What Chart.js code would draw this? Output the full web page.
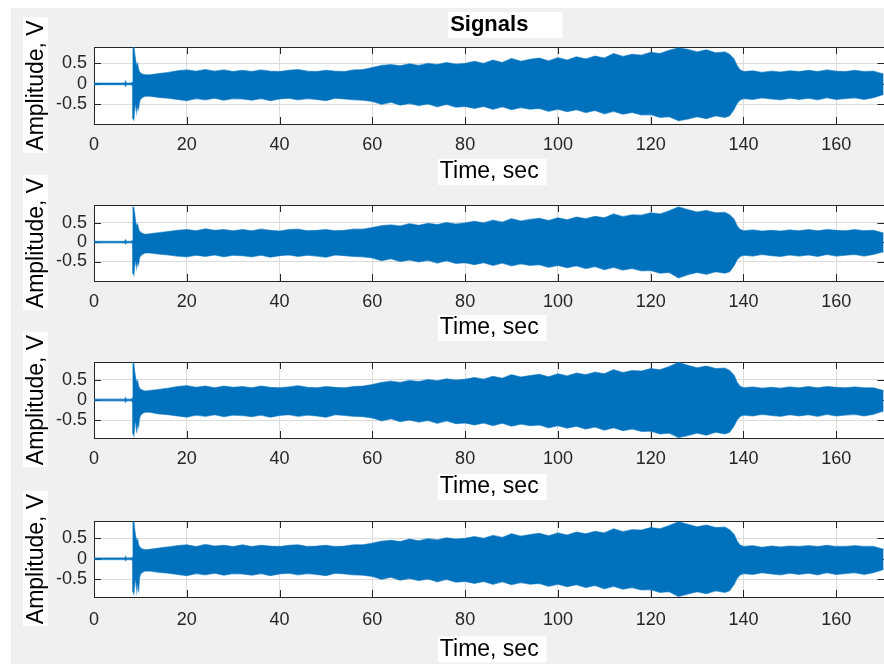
<!DOCTYPE html>
<html><head><meta charset="utf-8">
<script src="https://cdn.jsdelivr.net/npm/chart.js@4.4.1/dist/chart.umd.min.js"></script>
<style>
html,body{margin:0;padding:0;width:884px;height:664px;overflow:hidden;background:#fff;}
#bg{position:absolute;left:11px;top:8px;width:900px;height:700px;background:#f0f0f0;}
canvas{position:absolute;left:0;top:0;}
</style></head><body>
<div id="bg"></div>
<canvas id="c0" width="890" height="664"></canvas>
<canvas id="c1" width="890" height="664"></canvas>
<canvas id="c2" width="890" height="664"></canvas>
<canvas id="c3" width="890" height="664"></canvas>
<script>
// ---------- data ----------
const chartTitle = 'Signals';
const xAxisTitle = 'Time, sec';
const yAxisTitle = 'Amplitude, V';
const xTicks = [0, 20, 40, 60, 80, 100, 120, 140, 160];
const xTickLabels = ['0', '20', '40', '60', '80', '100', '120', '140', '160'];
const yTicks = [-0.5, 0, 0.5];
const yTickLabels = ['-0.5', '0', '0.5'];

// time samples (s) at which the signal envelope was read
const time = [0,2,4,6,6.6,6.8,7,8,
  8.3,8.4,8.6,8.8,9.0,9.2,9.4,9.6,9.8,10.0,10.4,11,
  12,14,16,18,20,22,24,26,28,30,32,34,36,38,40,42,44,46,48,50,52,54,56,58,
  60,62,64,66,68,70,72,74,76,78,
  80,82,84,86,88,90,92,94,96,98,
  100,102,104,106,108,110,112,114,116,118,
  120,122,124,126,128,130,132,134,136,
  137,138,138.6,139.2,
  140,142,144,146,148,150,152,154,156,158,160,162,164,166,168,170.2];

// signal 1 envelope (V)
const upper1 = [0.02,0.02,0.02,0.02,0.02,0.07,0.02,0.02,
  0.04,0.88,0.9,0.72,0.55,0.45,0.5,0.36,0.3,0.27,0.24,0.22,
  0.22,0.25,0.28,0.32,0.34,0.31,0.35,0.31,0.34,0.3,0.33,0.3,0.34,0.31,0.3,0.33,0.35,0.31,0.3,0.33,0.31,0.3,0.34,0.35,
  0.4,0.45,0.47,0.44,0.49,0.45,0.5,0.47,0.52,0.48,
  0.5,0.55,0.5,0.58,0.52,0.62,0.55,0.6,0.63,0.56,
  0.64,0.58,0.66,0.61,0.68,0.63,0.74,0.67,0.72,0.7,
  0.77,0.74,0.82,0.88,0.84,0.78,0.83,0.76,0.78,
  0.72,0.6,0.45,0.35,
  0.3,0.32,0.28,0.31,0.29,0.32,0.3,0.33,0.3,0.34,0.31,0.3,0.33,0.3,0.31,0.24];
const lower1 = [-0.02,-0.02,-0.02,-0.02,-0.02,-0.06,-0.02,-0.02,
  -0.04,-0.85,-0.88,-0.6,-0.5,-0.7,-0.55,-0.62,-0.45,-0.38,-0.33,-0.3,
  -0.3,-0.33,-0.35,-0.38,-0.41,-0.36,-0.39,-0.35,-0.4,-0.36,-0.37,-0.4,-0.36,-0.41,-0.37,-0.35,-0.39,-0.36,-0.38,-0.41,-0.35,-0.37,-0.39,-0.4,
  -0.43,-0.5,-0.45,-0.52,-0.48,-0.53,-0.49,-0.56,-0.5,-0.57,
  -0.55,-0.6,-0.55,-0.62,-0.56,-0.63,-0.58,-0.62,-0.6,-0.67,
  -0.62,-0.68,-0.63,-0.7,-0.65,-0.73,-0.67,-0.74,-0.7,-0.76,
  -0.75,-0.82,-0.8,-0.9,-0.86,-0.8,-0.85,-0.78,-0.82,
  -0.78,-0.62,-0.48,-0.4,
  -0.36,-0.38,-0.34,-0.37,-0.39,-0.35,-0.38,-0.35,-0.39,-0.34,-0.38,-0.36,-0.34,-0.38,-0.34,-0.26];

// signal 2 envelope (V)
const upper2 = [0.02,0.02,0.02,0.02,0.02,0.06,0.02,0.02,
  0.04,0.9,0.88,0.7,0.5,0.42,0.46,0.34,0.28,0.26,0.22,0.2,
  0.21,0.24,0.27,0.3,0.32,0.29,0.34,0.3,0.32,0.29,0.32,0.29,0.33,0.3,0.28,0.32,0.33,0.29,0.3,0.32,0.29,0.3,0.33,0.33,
  0.37,0.42,0.44,0.41,0.47,0.43,0.48,0.45,0.5,0.46,
  0.49,0.53,0.49,0.56,0.51,0.6,0.54,0.58,0.61,0.55,
  0.62,0.57,0.64,0.6,0.66,0.62,0.72,0.65,0.7,0.69,
  0.75,0.72,0.8,0.9,0.83,0.77,0.81,0.75,0.76,
  0.7,0.58,0.42,0.33,
  0.29,0.31,0.28,0.3,0.28,0.31,0.29,0.32,0.29,0.32,0.3,0.29,0.32,0.29,0.3,0.23];
const lower2 = [-0.02,-0.02,-0.02,-0.02,-0.02,-0.05,-0.02,-0.02,
  -0.04,-0.8,-0.85,-0.58,-0.48,-0.66,-0.52,-0.58,-0.42,-0.36,-0.32,-0.28,
  -0.28,-0.31,-0.33,-0.36,-0.38,-0.34,-0.37,-0.33,-0.38,-0.34,-0.35,-0.38,-0.34,-0.39,-0.35,-0.33,-0.37,-0.34,-0.36,-0.39,-0.33,-0.35,-0.37,-0.38,
  -0.41,-0.48,-0.43,-0.5,-0.46,-0.51,-0.47,-0.54,-0.48,-0.55,
  -0.53,-0.58,-0.53,-0.6,-0.54,-0.61,-0.56,-0.6,-0.58,-0.65,
  -0.6,-0.66,-0.61,-0.68,-0.63,-0.71,-0.65,-0.72,-0.68,-0.74,
  -0.73,-0.8,-0.78,-0.92,-0.84,-0.78,-0.83,-0.76,-0.8,
  -0.76,-0.6,-0.46,-0.38,
  -0.34,-0.36,-0.32,-0.35,-0.37,-0.33,-0.36,-0.33,-0.37,-0.32,-0.36,-0.34,-0.32,-0.36,-0.32,-0.25];

// signal 3 envelope (V)
const upper3 = [0.02,0.02,0.02,0.02,0.02,0.06,0.02,0.02,
  0.05,0.92,0.88,0.68,0.52,0.44,0.48,0.35,0.3,0.27,0.24,0.22,
  0.23,0.26,0.29,0.33,0.35,0.31,0.34,0.3,0.34,0.31,0.33,0.3,0.34,0.31,0.3,0.32,0.35,0.31,0.3,0.33,0.31,0.3,0.33,0.34,
  0.38,0.43,0.46,0.43,0.48,0.45,0.5,0.47,0.52,0.49,
  0.51,0.55,0.51,0.58,0.53,0.62,0.56,0.6,0.63,0.57,
  0.64,0.59,0.66,0.62,0.68,0.64,0.74,0.67,0.72,0.71,
  0.77,0.74,0.82,0.92,0.85,0.79,0.83,0.77,0.78,
  0.72,0.6,0.44,0.34,
  0.3,0.32,0.29,0.31,0.29,0.32,0.3,0.33,0.3,0.33,0.31,0.3,0.32,0.3,0.3,0.23];
const lower3 = [-0.02,-0.02,-0.02,-0.02,-0.02,-0.06,-0.02,-0.02,
  -0.05,-0.82,-0.88,-0.62,-0.52,-0.8,-0.6,-0.66,-0.46,-0.38,-0.33,-0.3,
  -0.3,-0.34,-0.36,-0.39,-0.42,-0.37,-0.4,-0.36,-0.41,-0.37,-0.38,-0.41,-0.37,-0.42,-0.38,-0.36,-0.4,-0.37,-0.39,-0.42,-0.36,-0.38,-0.4,-0.41,
  -0.44,-0.51,-0.46,-0.53,-0.49,-0.54,-0.5,-0.57,-0.51,-0.58,
  -0.56,-0.61,-0.56,-0.63,-0.57,-0.64,-0.59,-0.63,-0.61,-0.68,
  -0.63,-0.69,-0.64,-0.71,-0.66,-0.74,-0.68,-0.75,-0.71,-0.77,
  -0.76,-0.83,-0.81,-0.92,-0.87,-0.81,-0.86,-0.79,-0.83,
  -0.79,-0.63,-0.49,-0.41,
  -0.37,-0.39,-0.35,-0.38,-0.4,-0.36,-0.39,-0.36,-0.4,-0.35,-0.39,-0.37,-0.35,-0.39,-0.35,-0.27];

// signal 4 envelope (V)
const upper4 = [0.02,0.02,0.02,0.02,0.02,0.06,0.02,0.02,
  0.04,0.9,0.9,0.7,0.54,0.44,0.48,0.35,0.3,0.27,0.24,0.22,
  0.23,0.26,0.29,0.32,0.34,0.3,0.35,0.31,0.33,0.3,0.34,0.3,0.33,0.31,0.3,0.33,0.34,0.3,0.31,0.33,0.3,0.31,0.34,0.34,
  0.38,0.43,0.45,0.42,0.48,0.44,0.49,0.46,0.51,0.48,
  0.5,0.54,0.5,0.57,0.52,0.61,0.55,0.59,0.62,0.56,
  0.63,0.58,0.65,0.61,0.67,0.63,0.73,0.66,0.71,0.7,
  0.76,0.73,0.81,0.9,0.84,0.78,0.82,0.76,0.77,
  0.71,0.59,0.44,0.34,
  0.3,0.32,0.28,0.31,0.29,0.31,0.3,0.32,0.3,0.33,0.3,0.3,0.32,0.3,0.3,0.23];
const lower4 = [-0.02,-0.02,-0.02,-0.02,-0.02,-0.05,-0.02,-0.02,
  -0.04,-0.8,-0.86,-0.6,-0.5,-0.78,-0.6,-0.82,-0.48,-0.38,-0.33,-0.3,
  -0.3,-0.33,-0.35,-0.38,-0.41,-0.36,-0.39,-0.35,-0.4,-0.36,-0.37,-0.4,-0.36,-0.41,-0.37,-0.35,-0.39,-0.36,-0.38,-0.41,-0.35,-0.37,-0.39,-0.4,
  -0.43,-0.5,-0.45,-0.52,-0.48,-0.53,-0.49,-0.56,-0.5,-0.57,
  -0.55,-0.6,-0.55,-0.62,-0.56,-0.63,-0.58,-0.62,-0.6,-0.67,
  -0.62,-0.68,-0.63,-0.7,-0.65,-0.73,-0.67,-0.74,-0.7,-0.76,
  -0.75,-0.82,-0.8,-0.92,-0.86,-0.8,-0.85,-0.78,-0.82,
  -0.78,-0.62,-0.48,-0.4,
  -0.36,-0.38,-0.34,-0.37,-0.39,-0.35,-0.38,-0.35,-0.39,-0.34,-0.38,-0.36,-0.34,-0.38,-0.34,-0.26];

const uppers = [upper1, upper2, upper3, upper4];
const lowers = [lower1, lower2, lower3, lower4];
const yMins = [-0.98, -1.0, -0.93, -0.93];
const yMaxs = [0.9, 0.95, 0.93, 0.92];
const xMin = 0, xMax = 170.4;

// ---------- layout / style ----------
const FONT = '"Liberation Sans", Arial, Helvetica, sans-serif';
const BLUE = '#0072BD';
const EDGE = 'rgba(0,114,189,0.55)';
const AXIS = '#262626';
const GRID = '#dcdcdc';
const CANVAS_H = 664;
const X_SCALE_H = 64;
const Y_SCALE_W = 94;
const TITLE_FONT = 22, TITLE_PT = 11.8, TITLE_PB = 8.8;
const LBL_FONT = 23, YT_PAD = 25.5;
const panels = [
  {top: 47,  bottom: 124, xPad: 10, xtPad: 4.5, title: true},
  {top: 205, bottom: 281, xPad: 10, xtPad: 5.5, title: false},
  {top: 362, bottom: 438, xPad: 10, xtPad: 3.5, title: false},
  {top: 521, bottom: 597, xPad: 12, xtPad: 0,   title: false}
];

function makeDecor(p) {
  return {
    id: 'decor',
    beforeDraw(chart) {
      const {ctx, chartArea: a} = chart;
      const xs = chart.scales.x, ys = chart.scales.y;
      ctx.save();
      ctx.fillStyle = '#ffffff';
      ctx.fillRect(a.left, a.top, a.right - a.left, a.bottom - a.top);
      // white boxes behind labels
      ctx.font = LBL_FONT + 'px ' + FONT;
      let w = ctx.measureText(xAxisTitle).width;
      let cx = (xs.left + xs.right) / 2;
      let cy = xs.bottom - p.xtPad - LBL_FONT / 2;
      ctx.fillRect(cx - w / 2 - 2, cy - 13, w + 10, 26);
      w = ctx.measureText(yAxisTitle).width;
      cx = ys.left + YT_PAD + LBL_FONT / 2;
      cy = (ys.top + ys.bottom) / 2;
      ctx.fillRect(cx - 14, cy - w / 2 - 3, 25, w + 5);
      if (p.title) {
        ctx.font = 'bold ' + TITLE_FONT + 'px ' + FONT;
        w = ctx.measureText(chartTitle).width;
        cx = (a.left + a.right) / 2;
        cy = TITLE_PT + TITLE_FONT * 1.2 / 2;
        ctx.fillRect(cx - w / 2 - 2, cy - 13, w + 36, 26);
      }
      ctx.restore();
    },
    beforeDatasetsDraw(chart) {
      const {ctx, chartArea: a} = chart;
      const xs = chart.scales.x, ys = chart.scales.y;
      const L = 7;
      ctx.save();
      ctx.strokeStyle = AXIS;
      ctx.lineWidth = 1;
      ctx.beginPath();
      xs.ticks.forEach(t => {
        const px = Math.round(xs.getPixelForValue(t.value)) + 0.5;
        ctx.moveTo(px, a.bottom); ctx.lineTo(px, a.bottom - L);
        ctx.moveTo(px, a.top); ctx.lineTo(px, a.top + L);
      });
      ys.ticks.forEach(t => {
        const py = Math.round(ys.getPixelForValue(t.value)) + 0.5;
        ctx.moveTo(a.left, py); ctx.lineTo(a.left + L, py);
        ctx.moveTo(a.right, py); ctx.lineTo(a.right - L, py);
      });
      ctx.stroke();
      ctx.strokeRect(Math.round(a.left) + 0.5, Math.round(a.top) + 0.5,
                     Math.round(a.right - a.left), Math.round(a.bottom - a.top));
      ctx.restore();
    }
  };
}

panels.forEach((p, i) => {
  const up = uppers[i], lo = lowers[i];
  new Chart(document.getElementById('c' + i), {
    type: 'line',
    data: {
      datasets: [
        {data: time.map((t, k) => ({x: t, y: up[k]})), fill: '+1',
         backgroundColor: BLUE, borderColor: EDGE, borderWidth: 1.2, pointRadius: 0, tension: 0},
        {data: time.map((t, k) => ({x: t, y: lo[k]})), fill: false,
         backgroundColor: BLUE, borderColor: EDGE, borderWidth: 1.2, pointRadius: 0, tension: 0}
      ]
    },
    options: {
      responsive: false,
      animation: false,
      devicePixelRatio: 1,
      layout: {padding: {left: 0, right: 5.5,
               top: p.title ? 0 : p.top,
               bottom: CANVAS_H - p.bottom - X_SCALE_H}},
      plugins: {
        legend: {display: false},
        tooltip: {enabled: false},
        title: {display: p.title, text: chartTitle, fullSize: false, color: '#000',
                font: {family: FONT, size: TITLE_FONT, weight: 'bold', lineHeight: 1.2},
                padding: {top: TITLE_PT, bottom: TITLE_PB}}
      },
      scales: {
        x: {
          type: 'linear', min: xMin, max: xMax,
          afterBuildTicks: s => { s.ticks = xTicks.map(v => ({value: v})); },
          afterFit: s => { s.height = X_SCALE_H; },
          ticks: {autoSkip: false, maxRotation: 0, padding: p.xPad, color: AXIS,
                  font: {family: FONT, size: 18, lineHeight: 1.2},
                  callback: v => xTickLabels[xTicks.indexOf(v)]},
          grid: {color: GRID, drawTicks: false},
          border: {display: false},
          title: {display: true, text: xAxisTitle, color: '#000',
                  font: {family: FONT, size: LBL_FONT, lineHeight: 1},
                  padding: {top: 0, bottom: p.xtPad}}
        },
        y: {
          type: 'linear', min: yMins[i], max: yMaxs[i],
          afterBuildTicks: s => { s.ticks = yTicks.map(v => ({value: v})); },
          afterFit: s => { s.width = Y_SCALE_W; },
          ticks: {padding: 7, color: AXIS,
                  font: {family: FONT, size: 18, lineHeight: 1.2},
                  callback: v => yTickLabels[yTicks.indexOf(v)]},
          grid: {color: GRID, drawTicks: false},
          border: {display: false},
          title: {display: true, text: yAxisTitle, color: '#000',
                  font: {family: FONT, size: LBL_FONT, lineHeight: 1},
                  padding: {top: YT_PAD, bottom: 0}}
        }
      }
    },
    plugins: [makeDecor(p)]
  });
});
</script>
</body></html>
